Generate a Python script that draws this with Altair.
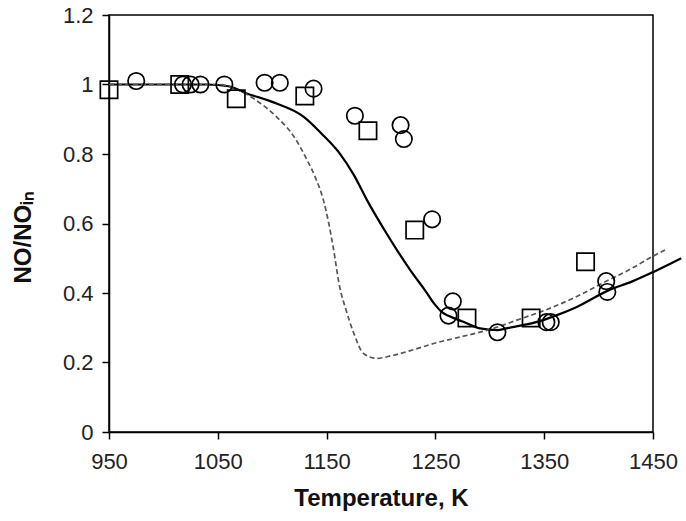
import altair as alt
import pandas as pd

# Model curves
solid_T = [950, 1000, 1040, 1060, 1076, 1100, 1129, 1145, 1162, 1175, 1187, 1205, 1215, 1230, 1240,
           1250, 1256, 1263, 1275, 1291, 1307, 1315, 1349, 1358, 1380, 1410, 1430, 1450, 1476]
solid_Y = [1.0, 1.0, 1.0, 0.995, 0.975, 0.95, 0.907, 0.86, 0.802, 0.74, 0.668, 0.572, 0.522, 0.452, 0.41,
           0.365, 0.345, 0.333, 0.318, 0.298, 0.293, 0.298, 0.322, 0.332, 0.36, 0.409, 0.432, 0.46, 0.50]

dash_T = [950, 1000, 1050, 1068, 1085, 1104, 1120, 1132, 1140, 1147, 1152, 1156, 1162, 1168, 1175,
          1184, 1196, 1210, 1230, 1250, 1275, 1300, 1325, 1352, 1380, 1404, 1430, 1450, 1463]
dash_Y = [1.0, 1.0, 1.0, 0.985, 0.955, 0.907, 0.85, 0.783, 0.73, 0.668, 0.6, 0.533, 0.418, 0.35, 0.284,
          0.226, 0.212, 0.22, 0.237, 0.256, 0.275, 0.295, 0.322, 0.352, 0.39, 0.429, 0.47, 0.506, 0.527]

# Experimental points
sq_T = [950, 1015, 1067, 1130, 1188, 1231, 1279, 1338, 1388]
sq_Y = [0.985, 1.0, 0.959, 0.967, 0.867, 0.581, 0.328, 0.328, 0.49]

circ_T = [975, 1018, 1025, 1034, 1056, 1093, 1107, 1138, 1176, 1218, 1221,
          1247, 1266, 1262, 1307, 1352, 1356, 1407, 1408]
circ_Y = [1.01, 1.0, 1.0, 1.0, 1.0, 1.005, 1.005, 0.988, 0.91, 0.883, 0.843,
          0.612, 0.376, 0.335, 0.287, 0.316, 0.316, 0.434, 0.403]

solid_df = pd.DataFrame({"T": solid_T, "Y": solid_Y})
dash_df = pd.DataFrame({"T": dash_T, "Y": dash_Y})
sq_df = pd.DataFrame({"T": sq_T, "Y": sq_Y})
circ_df = pd.DataFrame({"T": circ_T, "Y": circ_Y})

FONT = "Liberation Sans"
x_scale = alt.Scale(domain=[950, 1450], nice=False, zero=False)
y_scale = alt.Scale(domain=[0, 1.2], nice=False)

x_axis = alt.Axis(
    values=[950, 1050, 1150, 1250, 1350, 1450], format="d", title="Temperature, K",
    grid=False, domainColor="black", domainWidth=1.5, tickColor="black", tickWidth=1.5,
    tickSize=7, labelPadding=12, labelFontSize=22, labelFont=FONT, labelColor="#222",
    titleFont=FONT, titleFontSize=24, titleFontWeight="bold", titleColor="#111",
    titleY=66, titleBaseline="middle", labelFlush=False,
)
y_axis = alt.Axis(
    values=[0, 0.2, 0.4, 0.6, 0.8, 1.0, 1.2], format="~g", title="NO/NOᵢₙ",
    grid=False, domainColor="black", domainWidth=1.5, tickColor="black", tickWidth=1.5,
    tickSize=7, labelPadding=9, labelFontSize=22, labelFont=FONT, labelColor="#222",
    titleFont=FONT, titleFontSize=24, titleFontWeight="bold", titleColor="#111",
    titleAngle=-90, titleX=-86, titleY=222, titleBaseline="middle", titleAlign="center",
    labelFlush=False,
)

X = alt.X("T:Q", scale=x_scale, axis=x_axis)
Y = alt.Y("Y:Q", scale=y_scale, axis=y_axis)

solid = alt.Chart(solid_df).mark_line(color="black", strokeWidth=2.2, interpolate="monotone").encode(x=X, y=Y)
dashed = alt.Chart(dash_df).mark_line(color="#555", strokeWidth=1.7, strokeDash=[5, 3],
                                      interpolate="monotone").encode(x=X, y=Y)
squares = alt.Chart(sq_df).mark_point(shape="square", filled=False, color="black",
                                       size=300, strokeWidth=1.7, opacity=1).encode(x=X, y=Y)
circles = alt.Chart(circ_df).mark_point(shape="circle", filled=False, color="black",
                                         size=270, strokeWidth=1.7, opacity=1).encode(x=X, y=Y)

chart = alt.layer(solid, dashed, squares, circles).properties(
    width=544, height=417,
    autosize=alt.AutoSizeParams(type="none"),
    padding={"left": 109, "top": 15, "right": 33, "bottom": 89},
    background="white",
).configure_view(stroke="black", strokeWidth=1.5)

chart.save("out.html", embed_options={"renderer": "svg", "actions": False})
